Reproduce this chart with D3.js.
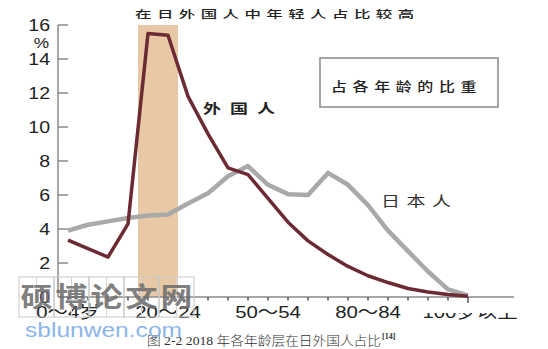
<!DOCTYPE html>
<html>
<head>
<meta charset="utf-8">
<script src="https://cdn.jsdelivr.net/npm/d3@7"></script>
<style>
body{margin:0;background:#fff}
svg{display:block}
</style>
</head>
<body>
<div id="chart"></div>
<script>
var width = 548
var height = 349
// age groups, 5-year steps
var ageGroups = ["0~4","5~9","10~14","15~19","20~24","25~29","30~34","35~39","40~44","45~49","50~54",
	"55~59","60~64","65~69","70~74","75~79","80~84","85~89","90~94","95~99","100+"]
// share of each age group, %
var foreignValues = [3.35,2.85,2.35,4.3,15.5,15.4,11.8,9.6,7.6,7.2,5.8,4.4,3.3,2.5,1.8,1.25,0.85,0.5,0.3,0.15,0.05]
var japanValues = [3.9,4.25,4.45,4.65,4.8,4.85,5.5,6.1,7.1,7.7,6.6,6.05,6.0,7.3,6.6,5.4,3.9,2.7,1.5,0.45,0.1]
var yTicks = [0,2,4,6,8,10,12,14,16]
// tick labels as printed, and the group they sit under
var xLabels = ["0～4岁","20～24","50～54","80～84","100岁以上"]
var xLabelAt = ["0~4","25~29","50~54","75~79","100+"]
var bandFrom = "15~19"
var bandTo = "25~29"
var watermarkChars = ["硕","博","论","文","网"]

var colorForeign = "#6c2a33"
var colorJapan = "#a9a9a9"
var axisColor = "#8a8a8a"

var svg = d3.select("#chart").append("svg")
	.attr("width",width)
	.attr("height",height)

var x = d3.scalePoint().domain(ageGroups).range([68,468])
var y = d3.scaleLinear().domain([0,16]).range([297,25])
var step = x.step()

// highlighted band
svg.append("rect")
	.attr("x",x(bandFrom)+step/2)
	.attr("width",x(bandTo)-x(bandFrom))
	.attr("y",y(16))
	.attr("height",y(0)-y(16))
	.style("fill","#e8c8a5")

// y axis
svg.append("line")
	.attr("x1",58).attr("x2",58)
	.attr("y1",y(16)).attr("y2",y(0))
	.style("stroke",axisColor).style("stroke-width",1.5)
svg.selectAll(".ytick")
	.data(yTicks)
	.enter()
	.append("line")
	.attr("class","ytick")
	.attr("x1",58).attr("x2",68)
	.attr("y1",function(d){return y(d)})
	.attr("y2",function(d){return y(d)})
	.style("stroke",axisColor).style("stroke-width",1.5)
svg.selectAll(".ylabel")
	.data(yTicks)
	.enter()
	.append("text")
	.attr("class","ylabel")
	.attr("transform",function(d){return "translate(50,"+(y(d)+6)+") scale(1.15,1)"})
	.attr("text-anchor","end")
	.style("font-family","Liberation Sans, Arial, sans-serif")
	.style("font-size","17px")
	.style("fill","#222")
	.text(function(d){return d})
svg.append("text")
	.attr("transform","translate(49,48) scale(1.15,1)")
	.attr("text-anchor","end")
	.style("font-family","Liberation Sans, Arial, sans-serif")
	.style("font-size","15px")
	.style("fill","#222")
	.text("%")

// x axis
svg.append("line")
	.attr("x1",58).attr("x2",514)
	.attr("y1",y(0)).attr("y2",y(0))
	.style("stroke",axisColor).style("stroke-width",1.5)
svg.selectAll(".xtick")
	.data(ageGroups)
	.enter()
	.append("line")
	.attr("class","xtick")
	.attr("x1",function(d){return x(d)})
	.attr("x2",function(d){return x(d)})
	.attr("y1",y(0))
	.attr("y2",function(d,i){return i==ageGroups.length-1 ? y(0)+6 : y(0)+3.5})
	.style("stroke","#555").style("stroke-width",1.5)

// the last label is cut off at the top in the original
svg.append("clipPath").attr("id","lastClip")
	.append("rect").attr("x",400).attr("y",313).attr("width",148).attr("height",20)
svg.selectAll(".xlabel")
	.data(xLabels)
	.enter()
	.append("g")
	.attr("class","xlabel")
	.attr("clip-path",function(d,i){return i==xLabels.length-1 ? "url(#lastClip)" : null})
	.append("text")
	.attr("transform",function(d,i){
		var dx = i==xLabels.length-1 ? 2 : 0
		return "translate("+(x(xLabelAt[i])+dx)+",318) scale(1.2,1)"
	})
	.attr("text-anchor","middle")
	.style("font-family","Liberation Sans, Arial, Noto Sans CJK SC, sans-serif")
	.style("font-size","17px")
	.style("fill","#222")
	.text(function(d){return d})

// lines
var line = d3.line()
	.x(function(d,i){return x(ageGroups[i])})
	.y(function(d){return y(d)})
svg.append("path")
	.datum(japanValues)
	.attr("d",line)
	.style("fill","none")
	.style("stroke",colorJapan)
	.style("stroke-width",4.5)
	.style("stroke-linejoin","round")
svg.append("path")
	.datum(foreignValues)
	.attr("d",line)
	.style("fill","none")
	.style("stroke",colorForeign)
	.style("stroke-width",3.5)
	.style("stroke-linejoin","round")

// texts
function cjkText(str,tx,ty,size,spacing,sy,weight){
	return svg.append("text")
		.attr("transform","translate("+tx+","+ty+") scale(1,"+sy+")")
		.style("font-family","Noto Sans CJK SC, sans-serif")
		.style("font-size",size+"px")
		.style("font-weight",weight||400)
		.style("letter-spacing",spacing+"px")
		.style("fill","#222")
		.text(str)
}
cjkText("在日外国人中年轻人占比较高",135,18,16.5,5.4,0.65,500)
cjkText("外国人",203,113,18,9,0.72,700)
cjkText("日本人",381,206,19,6.5,0.72).style("fill","#333")

svg.append("rect")
	.attr("x",320).attr("y",58)
	.attr("width",178).attr("height",49)
	.style("fill","none")
	.style("stroke","#888")
	.style("stroke-width",1.5)
cjkText("占各年龄的比重",331,91,16,5.6,0.8,500)

// caption
svg.append("text")
	.attr("x",147).attr("y",345)
	.attr("textLength",234)
	.attr("lengthAdjust","spacingAndGlyphs")
	.style("font-family","Liberation Serif, Noto Sans CJK SC, serif")
	.style("font-size","13px")
	.style("font-weight",300)
	.style("fill","#333")
	.text("图 2-2 2018 年各年龄层在日外国人占比")
svg.append("text")
	.attr("x",382).attr("y",339)
	.style("font-family","Liberation Serif, serif")
	.style("font-size","8px")
	.style("font-weight",700)
	.style("fill","#333")
	.text("[14]")

// site watermark
var wm = svg.append("g")
wm.selectAll(".wmbox")
	.data(watermarkChars)
	.enter()
	.append("rect")
	.attr("x",function(d,i){return 19+i*35})
	.attr("y",277)
	.attr("width",35).attr("height",40)
	.style("fill","none")
	.style("stroke","#c8c8c8")
	.style("stroke-width",1)
wm.selectAll(".wmmid")
	.data(watermarkChars)
	.enter()
	.append("line")
	.attr("x1",function(d,i){return 36.5+i*35})
	.attr("x2",function(d,i){return 36.5+i*35})
	.attr("y1",277).attr("y2",317)
	.style("stroke","#d8d8d8")
	.style("stroke-width",1)
wm.selectAll(".wmchar")
	.data(watermarkChars)
	.enter()
	.append("text")
	.attr("transform",function(d,i){return "translate("+(36.5+i*35)+",307) scale(1,0.85)"})
	.attr("text-anchor","middle")
	.style("font-family","Noto Sans CJK SC, sans-serif")
	.style("font-size","32px")
	.style("font-weight",700)
	.style("fill","#6e6e6e")
	.style("fill-opacity",0.9)
	.text(function(d){return d})
wm.append("text")
	.attr("x",25).attr("y",337)
	.attr("textLength",157)
	.attr("lengthAdjust","spacingAndGlyphs")
	.style("font-family","Liberation Sans, Arial, sans-serif")
	.style("font-size","20px")
	.style("fill","#8cb6ea")
	.text("sblunwen.com")
</script>
</body>
</html>
